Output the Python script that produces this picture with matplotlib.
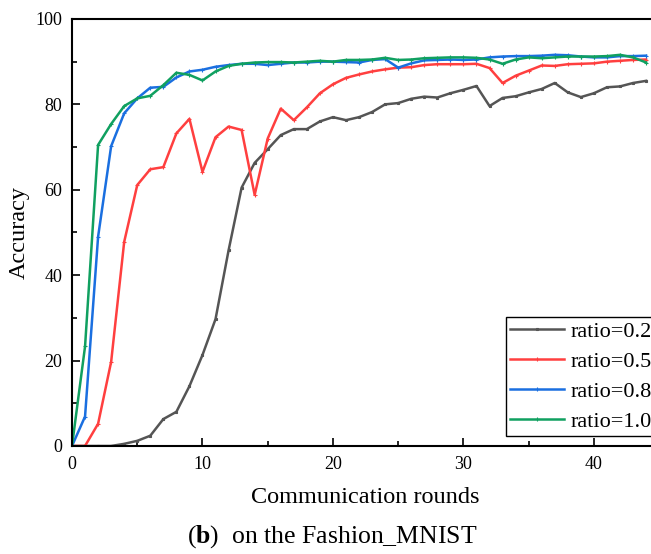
"""Accuracy vs communication rounds on Fashion_MNIST for several client ratios."""

import matplotlib

matplotlib.use("Agg")
import matplotlib.pyplot as plt

plt.rcParams["font.family"] = ["Liberation Serif", "DejaVu Serif"]
plt.rcParams["mathtext.fontset"] = "custom"
plt.rcParams["mathtext.rm"] = "Liberation Serif"
plt.rcParams["mathtext.bf"] = "Liberation Serif:bold"

rounds = list(range(45))

acc_ratio_02 = [
    0, 0, 0, 0, 0.5, 1.2, 2.4, 6.3, 8.0, 14.0,
    21.3, 29.7, 45.8, 60.5, 66.3, 69.5, 72.8, 74.2, 74.2, 76.0,
    77.0, 76.3, 77.0, 78.2, 80.0, 80.3, 81.3, 81.8, 81.6, 82.6,
    83.4, 84.3, 79.6, 81.5, 81.9, 82.8, 83.6, 85.0, 82.8, 81.7,
    82.6, 84.0, 84.2, 85.0, 85.5,
]
acc_ratio_05 = [
    0, 0, 5.2, 19.7, 47.8, 61.1, 64.8, 65.3, 73.2, 76.6,
    64.2, 72.3, 74.8, 74.0, 58.8, 72.0, 79.0, 76.3, 79.3, 82.6,
    84.7, 86.2, 87.0, 87.7, 88.2, 88.6, 88.7, 89.2, 89.4, 89.4,
    89.4, 89.5, 88.5, 85.0, 86.7, 87.9, 89.1, 89.0, 89.4, 89.5,
    89.6, 90.0, 90.2, 90.4, 90.5,
]
acc_ratio_08 = [
    0, 6.9, 49.0, 70.2, 77.9, 81.4, 83.9, 84.1, 86.3, 87.7,
    88.1, 88.8, 89.2, 89.5, 89.5, 89.2, 89.5, 89.8, 89.8, 90.0,
    90.0, 89.9, 89.8, 90.4, 90.6, 88.6, 89.6, 90.3, 90.4, 90.5,
    90.4, 90.5, 91.0, 91.2, 91.3, 91.3, 91.4, 91.6, 91.5, 91.2,
    91.0, 91.0, 91.3, 91.3, 91.4,
]
acc_ratio_10 = [
    0, 23.3, 70.5, 75.4, 79.6, 81.4, 82.0, 84.5, 87.4, 86.9,
    85.6, 87.7, 89.0, 89.5, 89.8, 89.9, 89.9, 89.8, 90.0, 90.2,
    90.0, 90.4, 90.4, 90.5, 90.9, 90.4, 90.5, 90.8, 90.9, 91.0,
    91.0, 90.9, 90.5, 89.5, 90.5, 91.0, 90.8, 91.0, 91.2, 91.2,
    91.2, 91.3, 91.6, 91.0, 89.8,
]

series = [
    ("ratio=0.2", acc_ratio_02, "#555555", "s"),
    ("ratio=0.5", acc_ratio_05, "#ff3f3f", "+"),
    ("ratio=0.8", acc_ratio_08, "#1a6fe0", "+"),
    ("ratio=1.0", acc_ratio_10, "#10a060", "+"),
]

fig = plt.figure(figsize=(6.51, 5.54), dpi=100)
ax = fig.add_axes([0.1106, 0.195, 0.9019, 0.7708])

for label, values, color, marker in series:
    ax.plot(rounds, values, color=color, linewidth=1.8, marker=marker,
            markersize=1.8 if marker == "s" else 2.5, markeredgewidth=0.8,
            label=label)

ax.set_xlim(0, 45)
ax.set_ylim(0, 100)
ax.set_xticks([0, 10, 20, 30, 40])
ax.set_xticks([5, 15, 25, 35, 45], minor=True)
ax.set_yticks([0, 20, 40, 60, 80, 100])
ax.set_yticks([10, 30, 50, 70, 90], minor=True)
ax.tick_params(which="both", direction="in", top=False, right=False,
               labelsize=13, width=1.2)
ax.tick_params(which="major", length=6, pad=7)
ax.tick_params(which="minor", length=3.5)
for side in ["left", "bottom", "top"]:
    ax.spines[side].set_linewidth(1.5)

ax.set_ylabel("Accuracy", fontsize=17.5, labelpad=4)
ax.set_xlabel("Communication rounds", fontsize=17.5, labelpad=10)

legend = ax.legend(loc="lower left", bbox_to_anchor=(0.739, 0.0234),
                   fontsize=16, frameon=True, fancybox=False,
                   edgecolor="black", framealpha=1, handlelength=2.4,
                   handletextpad=0.3, borderpad=0.2, labelspacing=0.42,
                   borderaxespad=0, markerscale=1.0)
legend.get_frame().set_linewidth(1.0)

fig.text(0.51, 0.031, r"($\mathbf{b}$)  on the Fashion_MNIST", ha="center",
         va="center", fontsize=18.5)

fig.savefig("out.png", dpi=100)
